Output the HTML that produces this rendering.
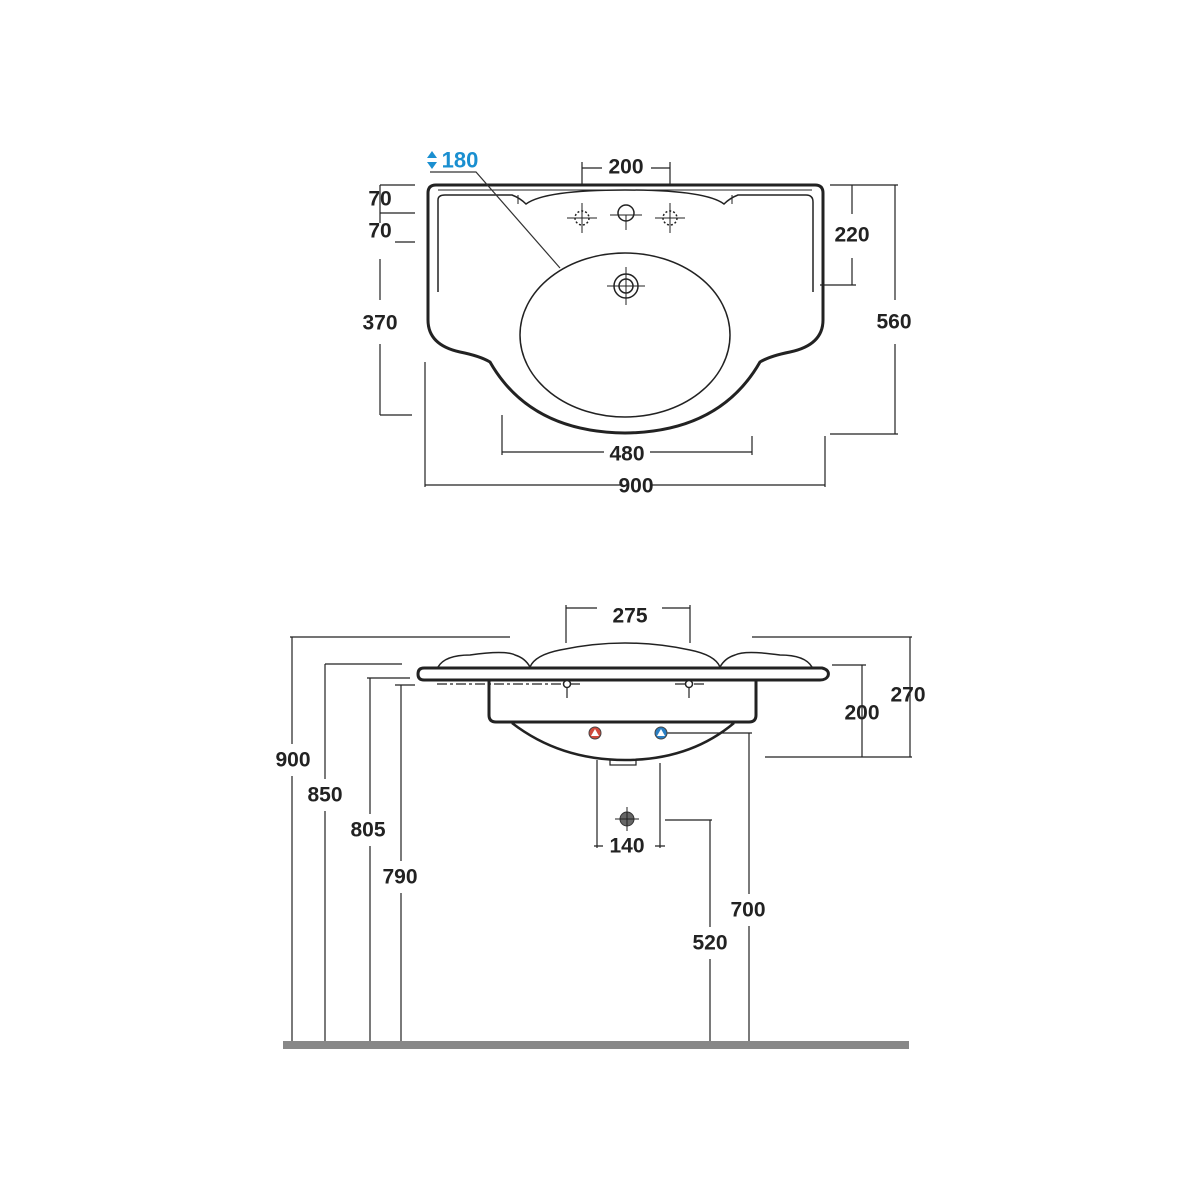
<!DOCTYPE html>
<html><head><meta charset="utf-8"><style>
html,body{margin:0;padding:0;background:#fff;}
svg{display:block}
text{font-family:"Liberation Sans","DejaVu Sans",sans-serif;font-size:21px;font-weight:bold;fill:#222;text-anchor:middle;dominant-baseline:central;}
</style></head><body>
<svg width="1200" height="1200" viewBox="0 0 1200 1200" xmlns="http://www.w3.org/2000/svg">
<rect width="1200" height="1200" fill="#fff"/>
<g fill="none" stroke="#222" stroke-width="1.5">
<path d="M436,185 L815,185 Q823,185 823,193 L823,320 Q823,345 790,352 Q770,356 760,362 Q720,432 625,433 Q530,432 490,362 Q480,356 460,352 Q428,345 428,320 L428,193 Q428,185 436,185 Z" stroke-width="3"/>
<path d="M438,292 L438,200 Q438,195 445,195 L512,195 Q520,198 526,204 Q545,190 625,190 Q705,190 724,204 Q730,198 738,195 L806,195 Q813,195 813,202 L813,292"/>
<path d="M518,195 L518,204 M732,195 L732,204" stroke-width="1"/>
<line x1="438" y1="190" x2="812" y2="190" stroke-width="1"/>
<ellipse cx="625" cy="335" rx="105" ry="82"/>
<circle cx="626" cy="286" r="12"/><circle cx="626" cy="286" r="7"/>
<path d="M607,286 H645 M626,267 V305" stroke-width="1"/>
<circle cx="626" cy="213" r="8"/>
<path d="M610,215 H642 M626,215 V230" stroke-width="1"/>
<circle cx="582" cy="218" r="7" stroke-dasharray="2 2"/>
<path d="M567,218 H597 M582,203 V233" stroke-width="1"/>
<circle cx="670" cy="218" r="7" stroke-dasharray="2 2"/>
<path d="M655,218 H685 M670,203 V233" stroke-width="1"/>
<g stroke-width="1.2">
<path d="M380,185 H415 M380,213 H415 M380,242 H415 M380,415 H412 M380,185 V415"/>
<path d="M582,168 H602 M651,168 H670 M582,162 V185 M670,162 V185"/>
<path d="M830,185 H898 M820,285 H856 M852,185 V285 M830,434 H898 M895,185 V434"/>
<path d="M425,362 V487 M825,436 V487 M425,485 H620 M652,485 H825"/>
<path d="M502,415 V455 M752,436 V455 M502,452 H604 M650,452 H752"/>
<path d="M430,172 H476 L560,268" stroke="#333"/>
</g>
<path d="M424,668 L822,668 Q830,670 828,676 Q826,680 820,680 L424,680 Q418,680 418,674 Q418,668 424,668 Z" stroke-width="3"/>
<path d="M438,667 Q445,655 470,655 Q505,650 515,655 Q525,658 530,667 M530,667 Q535,655 560,650 Q625,636 690,650 Q715,655 720,667 M720,667 Q725,658 735,655 Q745,650 780,655 Q805,655 812,667"/>
<path d="M489,680 V715 Q489,722 496,722 L749,722 Q756,722 756,715 V680" stroke-width="3"/>
<path d="M512,723 Q560,760 625,760 Q690,760 734,723" stroke-width="2.5"/>
<rect x="610" y="760" width="26" height="5" stroke-width="1.2"/>
<path d="M437,684 H580 M675,684 H705" stroke-width="1.2" stroke-dasharray="10 3 3 3"/>
<circle cx="567" cy="684" r="3.5" fill="#fff"/><circle cx="689" cy="684" r="3.5" fill="#fff"/>
<path d="M567,688 V698 M689,688 V698" stroke-width="1.2"/>
<g stroke-width="1.2">
<path d="M566,608 H597 M662,608 H690 M566,605 V643 M690,605 V643"/>
<path d="M290,637 H510 M292,637 V1045 M325,664 H402 M325,664 V1045 M367,678 H410 M370,678 V1045 M395,685 H415 M401,685 V1045"/>
<path d="M752,637 H912 M910,637 V757 M765,757 H912 M832,665 H866 M862,665 V757"/>
<path d="M666,733 H752 M749,733 V1045 M665,820 H712 M710,820 V1045"/>
<path d="M597,760 V848 M660,763 V848 M594,846 H603 M655,846 H665"/>
</g>
</g>
<circle cx="595" cy="733" r="6" fill="#d04a3c" stroke="#444" stroke-width="1"/>
<path d="M591,736 L595,729 L599,736 Z" fill="#fff"/>
<circle cx="661" cy="733" r="6" fill="#2a7fc4" stroke="#444" stroke-width="1"/>
<path d="M657,736 L661,729 L665,736 Z" fill="#fff"/>
<circle cx="627" cy="819" r="7" fill="#666" stroke="#333"/>
<path d="M615,819 H639 M627,807 V831" stroke="#222" stroke-width="1"/>
<rect x="283" y="1041" width="626" height="8" fill="#888"/>
<g fill="#fff">
<rect x="365" y="223" width="30" height="36"/><rect x="355" y="300" width="50" height="44"/>
<rect x="870" y="300" width="48" height="44"/><rect x="828" y="214" width="48" height="44"/>
<rect x="270" y="744" width="46" height="32"/><rect x="303" y="779" width="46" height="32"/>
<rect x="346" y="814" width="46" height="32"/><rect x="378" y="861" width="46" height="32"/>
<rect x="725" y="894" width="46" height="32"/><rect x="687" y="927" width="46" height="32"/>
</g>
<text x="380" y="199">70</text>
<text x="380" y="231">70</text>
<text x="380" y="323">370</text>
<text x="626" y="167">200</text>
<text x="852" y="235">220</text>
<text x="894" y="322">560</text>
<text x="627" y="454">480</text>
<text x="636" y="486">900</text>
<text x="460" y="160" style="fill:#1a8fd0;font-size:22px">180</text>
<path d="M432,151 L437,158 L427,158 Z M432,169 L437,162 L427,162 Z" fill="#1a8fd0"/>
<text x="630" y="616">275</text>
<text x="293" y="760">900</text>
<text x="325" y="795">850</text>
<text x="368" y="830">805</text>
<text x="400" y="877">790</text>
<text x="862" y="713">200</text>
<text x="908" y="695">270</text>
<text x="748" y="910">700</text>
<text x="710" y="943">520</text>
<text x="627" y="846">140</text>
</svg>
</body></html>
